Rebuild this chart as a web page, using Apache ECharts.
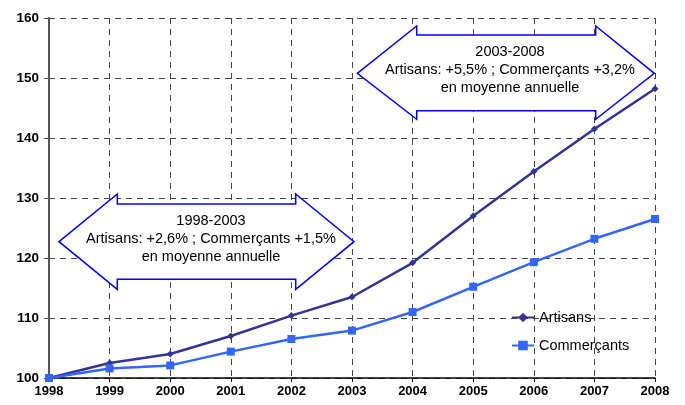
<!DOCTYPE html>
<html>
<head>
<meta charset="utf-8">
<script src="https://cdn.jsdelivr.net/npm/echarts@6/dist/echarts.min.js"></script>
<style>html,body{margin:0;padding:0;background:#fff;}#c{width:685px;height:405px;}</style>
</head>
<body>
<div id="c"></div>
<script>
var years = ['1998','1999','2000','2001','2002','2003','2004','2005','2006','2007','2008'];
var artisans = [100, 102.5, 104.0, 107.0, 110.4, 113.5, 119.2, 127.0, 134.4, 141.5, 148.2];
var commercants = [100, 101.6, 102.1, 104.4, 106.5, 107.9, 111.0, 115.2, 119.3, 123.2, 126.5];
var yTicks = {min: 100, max: 160, interval: 10};
var note1 = ['1998-2003', 'Artisans: +2,6% ; Commerçants +1,5%', 'en moyenne annuelle'];
var note2 = ['2003-2008', 'Artisans: +5,5% ; Commerçants +3,2%', 'en moyenne annuelle'];

var FONT = '"Liberation Sans", Arial, sans-serif';
var chart = echarts.init(document.getElementById('c'));

function arrow(x1, x2, xb1, xb2, yc, yTop, yBot, yHTop, yHBot) {
  return {
    type: 'polygon', z: 1,
    shape: {points: [[x1,yc],[xb1,yHTop],[xb1,yTop],[xb2,yTop],[xb2,yHTop],[x2,yc],[xb2,yHBot],[xb2,yBot],[xb1,yBot],[xb1,yHBot]]},
    style: {fill: '#ffffff', stroke: '#0000ff', lineWidth: 1.5}
  };
}
function note(lines, x, y) {
  return {
    type: 'text', z: 2, x: x, y: y,
    style: {text: lines.join('\n'), fill: '#000', font: '14.5px ' + FONT, align: 'center', verticalAlign: 'middle', lineHeight: 18}
  };
}

chart.setOption({
  animation: false,
  backgroundColor: '#fff',
  grid: {left: 49, right: 30, top: 18, bottom: 27},
  legend: {
    orient: 'vertical', left: 506, top: 305, itemWidth: 22, itemHeight: 12, itemGap: 13,
    textStyle: {fontFamily: FONT, fontSize: 14.5, color: '#000'},
    data: ['Artisans', 'Commerçants']
  },
  xAxis: {
    type: 'category', data: years, boundaryGap: false,
    axisLine: {lineStyle: {color: '#000', width: 1.5}},
    axisTick: {show: true, length: 4, lineStyle: {color: '#000'}},
    axisLabel: {fontFamily: FONT, fontWeight: 'bold', fontSize: 13, color: '#000', margin: 7},
    splitLine: {show: true, lineStyle: {color: '#444', type: [6,5], width: 1}}
  },
  yAxis: {
    type: 'value', min: yTicks.min, max: yTicks.max, interval: yTicks.interval,
    axisLine: {show: true, lineStyle: {color: '#555', width: 2}},
    axisTick: {show: true, length: 5, lineStyle: {color: '#555'}},
    axisLabel: {fontFamily: FONT, fontWeight: 'bold', fontSize: 13.5, color: '#000', margin: 10},
    splitLine: {show: true, lineStyle: {color: '#444', type: [6,5], width: 1}}
  },
  graphic: [
    arrow(59, 354, 117.3, 295.7, 241.7, 204, 279.3, 194, 289.3),
    arrow(357.3, 654.3, 416.7, 595.7, 73.3, 35, 110.7, 26, 119.3),
    note(note1, 211, 238.5),
    note(note2, 510, 70)
  ],
  series: [
    {name: 'Artisans', type: 'line', data: artisans, z: 3,
     symbol: 'diamond', symbolSize: 7, showAllSymbol: true,
     lineStyle: {color: '#333399', width: 2.5}, itemStyle: {color: '#333399'}},
    {name: 'Commerçants', type: 'line', data: commercants, z: 3,
     symbol: 'rect', symbolSize: 8, showAllSymbol: true,
     lineStyle: {color: '#3366ff', width: 2.5}, itemStyle: {color: '#3366ff'}}
  ]
});
</script>
</body>
</html>
